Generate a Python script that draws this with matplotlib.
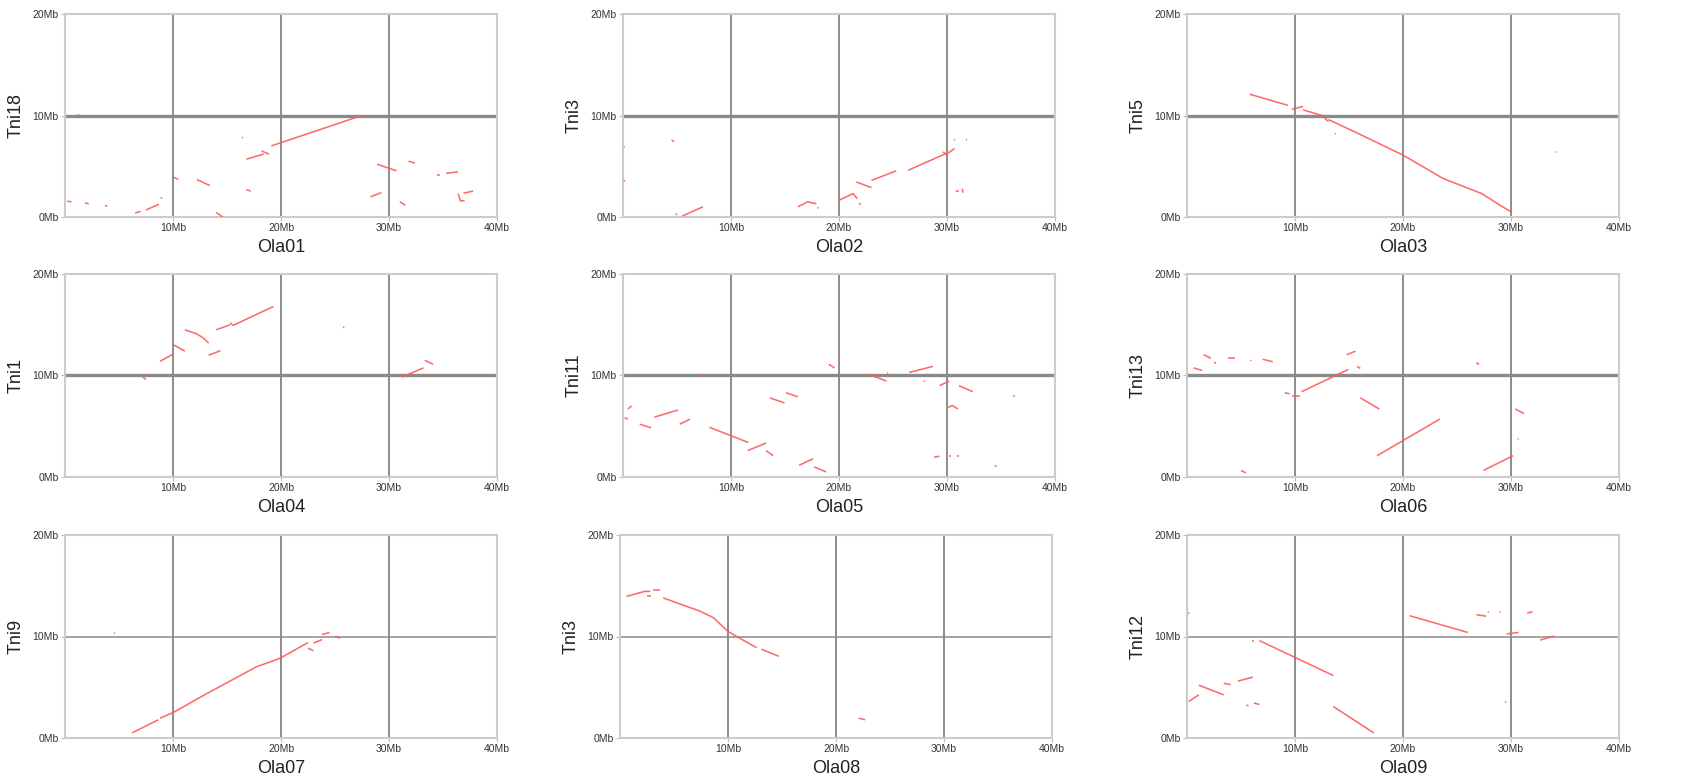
import matplotlib
matplotlib.use("Agg")
import matplotlib.pyplot as plt

plt.rcParams['font.family'] = ['Liberation Sans', 'DejaVu Sans']

# ---- labels ----
x_names = ["Ola01", "Ola02", "Ola03", "Ola04", "Ola05", "Ola06", "Ola07", "Ola08", "Ola09"]
y_names = ["Tni18", "Tni3", "Tni5", "Tni1", "Tni11", "Tni13", "Tni9", "Tni3", "Tni12"]
x_ticks = [10, 20, 30, 40]
x_tick_labels = ["10Mb", "20Mb", "30Mb", "40Mb"]
y_ticks = [0, 10, 20]
y_tick_labels = ["0Mb", "10Mb", "20Mb"]

# ---- synteny segments (Mb), each a polyline of (Ola position, Tni position) ----
ola01 = [
    [(19.1, 7.0), (27.2, 9.9)],
    [(16.8, 5.7), (18.4, 6.2)],
    [(18.2, 6.5), (18.9, 6.2)],
    [(16.4, 7.85), (16.5, 7.8)],
    [(1.1, 10.05), (1.4, 10.0)],
    [(0.2, 1.55), (0.6, 1.5)],
    [(1.85, 1.4), (2.2, 1.3)],
    [(3.7, 1.15), (3.9, 1.05)],
    [(6.5, 0.4), (7.0, 0.55)],
    [(7.5, 0.7), (8.7, 1.25)],
    [(8.9, 1.95), (8.95, 1.8)],
    [(10.0, 3.95), (10.5, 3.7)],
    [(12.2, 3.7), (13.4, 3.1)],
    [(14.0, 0.45), (14.6, 0.0)],
    [(16.8, 2.7), (17.2, 2.55)],
    [(28.9, 5.2), (30.7, 4.55)],
    [(28.3, 2.0), (29.3, 2.4)],
    [(31.0, 1.5), (31.5, 1.15)],
    [(31.8, 5.5), (32.4, 5.3)],
    [(34.4, 4.1), (34.7, 4.1)],
    [(35.3, 4.3), (36.4, 4.45)],
    [(36.4, 2.3), (36.6, 1.6), (37.0, 1.6)],
    [(36.9, 2.35), (37.8, 2.55)],
]
ola02 = [
    [(0.1, 3.65), (0.15, 3.5)],
    [(0.1, 6.95), (0.15, 6.85)],
    [(4.5, 7.6), (4.7, 7.4)],
    [(4.9, 0.35), (5.0, 0.2)],
    [(5.5, 0.1), (7.4, 1.0)],
    [(16.2, 1.0), (17.1, 1.5), (17.9, 1.3)],
    [(18.0, 0.95), (18.1, 0.85)],
    [(20.0, 1.65), (21.3, 2.3), (21.7, 1.8)],
    [(21.9, 1.4), (21.95, 1.2)],
    [(21.6, 3.45), (23.0, 2.9)],
    [(23.0, 3.6), (25.3, 4.55)],
    [(26.4, 4.6), (29.9, 6.25)],
    [(29.6, 6.4), (30.1, 6.1)],
    [(30.1, 6.3), (30.7, 6.75)],
    [(30.65, 7.65), (30.75, 7.6)],
    [(31.75, 7.65), (31.85, 7.6)],
    [(30.8, 2.5), (31.1, 2.6)],
    [(31.4, 2.8), (31.5, 2.4)],
]
ola03 = [
    [(5.8, 12.1), (9.35, 11.0)],
    [(9.7, 10.6), (10.75, 10.9)],
    [(10.75, 10.55), (12.5, 10.0), (13.1, 9.4)],
    [(13.1, 9.6), (15.9, 8.2), (20.0, 6.1), (23.7, 3.8), (27.3, 2.3), (29.0, 1.15), (30.1, 0.45)],
    [(13.7, 8.25), (13.75, 8.15)],
    [(34.1, 6.45), (34.15, 6.35)],
]
ola04 = [
    [(7.2, 9.85), (7.5, 9.6)],
    [(8.8, 11.4), (10.0, 12.1)],
    [(10.0, 13.05), (11.1, 12.4)],
    [(11.1, 14.5), (12.2, 14.1), (12.8, 13.7), (13.3, 13.2)],
    [(13.3, 12.0), (14.4, 12.45)],
    [(14.0, 14.5), (15.3, 15.0)],
    [(15.3, 15.2), (15.6, 14.9)],
    [(15.6, 14.95), (19.3, 16.8)],
    [(25.75, 14.8), (25.85, 14.7)],
    [(31.2, 9.85), (33.2, 10.75)],
    [(33.3, 11.5), (34.1, 11.1)],
]
ola05 = [
    [(0.15, 5.85), (0.45, 5.7)],
    [(0.45, 6.7), (0.8, 7.0)],
    [(1.55, 5.2), (2.6, 4.85)],
    [(2.9, 5.9), (5.1, 6.6)],
    [(5.25, 5.2), (6.2, 5.7)],
    [(7.3, 10.1), (7.5, 10.0)],
    [(8.0, 4.9), (11.6, 3.4)],
    [(11.55, 2.6), (13.25, 3.35)],
    [(13.25, 2.6), (13.9, 2.1)],
    [(13.6, 7.8), (14.95, 7.3)],
    [(15.1, 8.3), (16.2, 7.9)],
    [(16.3, 1.15), (17.6, 1.8)],
    [(17.7, 1.0), (18.8, 0.5)],
    [(19.05, 11.1), (19.6, 10.75)],
    [(22.8, 10.1), (24.4, 9.45)],
    [(24.45, 10.3), (24.55, 10.25)],
    [(26.5, 10.3), (28.7, 10.9)],
    [(27.85, 9.5), (27.95, 9.4)],
    [(29.3, 9.0), (30.2, 9.45)],
    [(30.1, 6.85), (30.5, 7.05), (31.0, 6.7)],
    [(31.1, 9.0), (32.4, 8.4)],
    [(28.8, 1.95), (29.3, 2.05)],
    [(30.2, 2.1), (30.4, 2.1)],
    [(30.9, 2.1), (31.1, 2.05)],
    [(34.45, 1.15), (34.55, 1.0)],
    [(36.15, 8.05), (36.25, 7.9)],
]
ola06 = [
    [(0.6, 10.75), (1.4, 10.5)],
    [(1.55, 12.05), (2.2, 11.7)],
    [(2.5, 11.3), (2.7, 11.2)],
    [(3.75, 11.75), (4.4, 11.75)],
    [(5.85, 11.5), (5.95, 11.45)],
    [(7.0, 11.6), (7.95, 11.35)],
    [(5.0, 0.65), (5.45, 0.4)],
    [(9.05, 8.3), (9.5, 8.2)],
    [(9.7, 8.0), (10.45, 8.0)],
    [(10.6, 8.4), (14.95, 10.6)],
    [(14.8, 12.05), (15.6, 12.4)],
    [(15.75, 10.9), (16.05, 10.7)],
    [(16.05, 7.8), (17.8, 6.7)],
    [(17.6, 2.1), (23.4, 5.7)],
    [(26.75, 11.25), (27.05, 11.1)],
    [(27.45, 0.65), (30.2, 2.1)],
    [(30.4, 6.7), (31.2, 6.25)],
    [(30.65, 3.8), (30.7, 3.7)],
]
ola07 = [
    [(6.2, 0.5), (8.65, 1.8)],
    [(8.8, 1.95), (10.0, 2.5), (13.0, 4.3), (17.7, 7.0), (19.9, 7.85)],
    [(19.9, 7.85), (22.5, 9.4)],
    [(22.5, 8.85), (23.0, 8.6)],
    [(23.0, 9.35), (23.8, 9.7)],
    [(23.8, 10.2), (24.5, 10.4)],
    [(25.0, 10.0), (25.5, 9.85)],
    [(4.55, 10.35), (4.65, 10.3)],
]
ola08 = [
    [(0.6, 13.95), (2.3, 14.45), (2.8, 14.45)],
    [(2.5, 13.95), (2.9, 13.95)],
    [(3.1, 14.6), (3.7, 14.6)],
    [(4.0, 13.8), (7.4, 12.5), (8.65, 11.85), (10.0, 10.5), (11.3, 9.7), (12.65, 8.9)],
    [(13.1, 8.75), (14.7, 8.05)],
    [(22.1, 1.95), (22.7, 1.8)],
]
ola09 = [
    [(0.1, 12.35), (0.2, 12.25)],
    [(0.15, 3.6), (1.1, 4.25)],
    [(1.1, 5.2), (3.4, 4.25)],
    [(3.4, 5.4), (4.05, 5.25)],
    [(4.7, 5.6), (6.1, 6.0)],
    [(5.5, 3.25), (5.7, 3.15)],
    [(6.2, 3.45), (6.7, 3.3)],
    [(6.0, 9.6), (6.2, 9.6)],
    [(6.7, 9.6), (13.55, 6.15)],
    [(13.55, 3.1), (17.3, 0.5)],
    [(20.6, 12.05), (26.0, 10.4)],
    [(26.8, 12.15), (27.7, 12.0)],
    [(27.85, 12.45), (27.95, 12.4)],
    [(28.95, 12.45), (29.05, 12.4)],
    [(31.5, 12.3), (32.0, 12.45)],
    [(29.6, 10.25), (30.7, 10.4)],
    [(32.7, 9.65), (34.0, 10.05)],
    [(29.45, 3.6), (29.55, 3.5)],
]
panels = [ola01, ola02, ola03, ola04, ola05, ola06, ola07, ola08, ola09]

# ---- layout ----
W, H = 1696, 781
fig = plt.figure(figsize=(W / 100, H / 100), dpi=100)
col_left = [65, 623, 1187]
row_top = [14, 274, 535]
ax_w, ax_h = 432, 203

for i, segs in enumerate(panels):
    r, c = divmod(i, 3)
    left = col_left[c] - (3 if (r == 2 and c == 1) else 0)
    ax = fig.add_axes([left / W, 1 - (row_top[r] + ax_h) / H, ax_w / W, ax_h / H])
    ax.set_xlim(0, 40)
    ax.set_ylim(0, 20)
    # grid lines
    for gx in [10, 20, 30]:
        ax.axvline(gx, color='#6e6e6e', lw=1.1, zorder=1)
    ax.axhline(10, color='#8a8a8a', lw=(2.4 if r < 2 else 1.1), zorder=1)
    for s in segs:
        xs = [p[0] for p in s]
        ys = [p[1] for p in s]
        ax.plot(xs, ys, color='#ff5a5a', lw=1.15, alpha=0.9, solid_capstyle='butt', zorder=3)
    for sp in ax.spines.values():
        sp.set_color('#cccccc')
        sp.set_linewidth(1.5)
    ax.set_xticks(x_ticks)
    ax.set_xticklabels(x_tick_labels)
    ax.set_yticks(y_ticks)
    ax.set_yticklabels(y_tick_labels)
    ax.tick_params(axis='both', labelsize=7.5, colors='#333333', length=3, width=0.8, pad=1.5)
    ax.tick_params(axis='both', color='#bdbdbd')
    ax.set_xlabel(x_names[i], fontsize=13, color='#222222', labelpad=4)
    ax.set_ylabel(y_names[i], fontsize=13, color='#222222', labelpad=6)

fig.savefig("out.png", dpi=100, facecolor='white')
